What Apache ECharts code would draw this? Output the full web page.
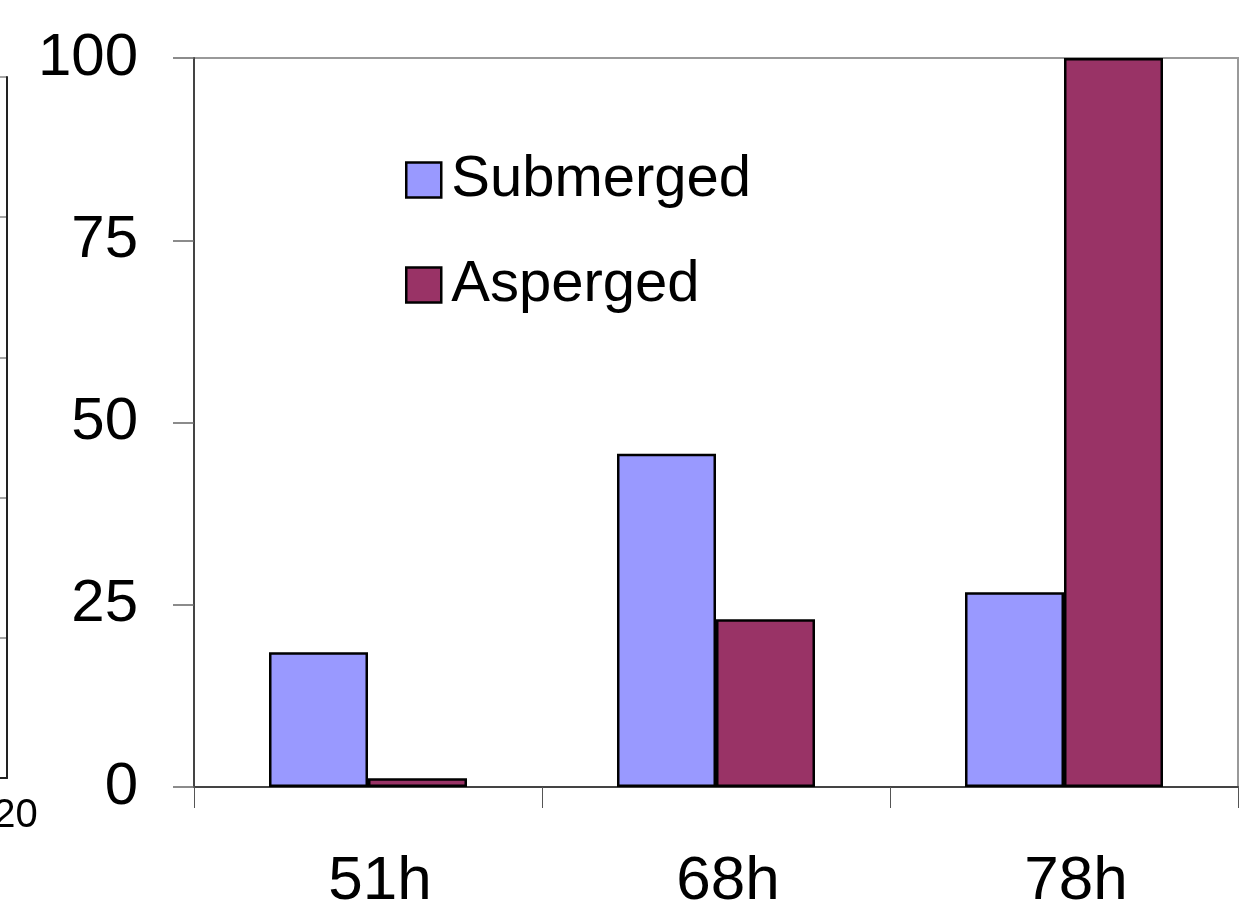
<!DOCTYPE html>
<html>
<head>
<meta charset="utf-8">
<script src="https://cdn.jsdelivr.net/npm/echarts@6/dist/echarts.min.js"></script>
<style>
html,body{margin:0;padding:0;background:#fff;}
#chart{width:1255px;height:910px;}
</style>
</head>
<body>
<div id="chart"></div>
<script>
const categories = ['51h', '68h', '78h'];
const submerged = [18.5, 45.7, 26.7];
const asperged = [1.2, 23.0, 100];
const yTicks = [0, 25, 50, 75, 100];
const leftXMax = 20;

const chart = echarts.init(document.getElementById('chart'));
const font = 'Liberation Sans, Arial, sans-serif';
chart.setOption({
  animation: false,
  backgroundColor: '#fff',
  grid: [
    { left: 194, right: 17, top: 58, bottom: 123, show: true, borderColor: '#999', borderWidth: 2, containLabel: false, outerBoundsMode: 'none' },
    { left: -293, width: 300, top: 77, bottom: 132, show: false, containLabel: false, outerBoundsMode: 'none' }
  ],
  legend: {
    orient: 'vertical',
    left: 400,
    top: 146,
    itemWidth: 35,
    itemHeight: 35,
    itemGap: 47,
    icon: 'rect',
    textStyle: { fontFamily: font, fontSize: 58, color: '#000', lineHeight: 58, padding: [0, 0, 0, 5] },
    itemStyle: { borderColor: '#000', borderWidth: 2.5 },
    data: ['Submerged', 'Asperged']
  },
  xAxis: [
    {
      gridIndex: 0,
      type: 'category',
      data: categories,
      axisLine: { lineStyle: { color: '#444', width: 2 } },
      axisTick: { show: true, length: 21, lineStyle: { color: '#555', width: 1 } },
      axisLabel: { fontFamily: font, fontSize: 62, color: '#000', margin: 64, padding: [0, 0, 0, 24] }
    },
    {
      gridIndex: 1,
      type: 'value',
      min: 0,
      max: leftXMax,
      interval: 5,
      axisLine: { show: true, onZero: false, lineStyle: { color: '#222', width: 2 } },
      axisTick: { show: false },
      splitLine: { show: false },
      axisLabel: { fontFamily: font, fontSize: 40, color: '#000', margin: 18, padding: [0, 0, 0, 17] }
    }
  ],
  yAxis: [
    {
      gridIndex: 0,
      type: 'value',
      min: 0,
      max: 100,
      interval: 25,
      axisLine: { show: true, lineStyle: { color: '#444', width: 2 } },
      axisTick: { show: true, length: 21, lineStyle: { color: '#666', width: 1.5 } },
      splitLine: { show: false },
      axisLabel: {
        fontFamily: font, fontSize: 60, color: '#000', margin: 56,
        formatter: v => (yTicks.indexOf(v) >= 0 ? String(v) : '')
      }
    },
    {
      gridIndex: 1,
      type: 'value',
      position: 'right',
      min: 0,
      max: 100,
      interval: 20,
      axisLine: { show: true, onZero: false, lineStyle: { color: '#222', width: 2 } },
      axisTick: { show: false },
      axisLabel: { show: false },
      splitLine: { show: true, lineStyle: { color: '#888', width: 1.5 } }
    }
  ],
  series: [
    {
      name: 'Submerged',
      type: 'bar',
      xAxisIndex: 0, yAxisIndex: 0,
      data: submerged,
      barWidth: 99,
      barGap: '0%',
      itemStyle: { color: '#9999FF', borderColor: '#000', borderWidth: 2.5 }
    },
    {
      name: 'Asperged',
      type: 'bar',
      xAxisIndex: 0, yAxisIndex: 0,
      data: asperged,
      barWidth: 99,
      barGap: '0%',
      itemStyle: { color: '#993366', borderColor: '#000', borderWidth: 2.5 }
    }
  ]
});
</script>
</body>
</html>
